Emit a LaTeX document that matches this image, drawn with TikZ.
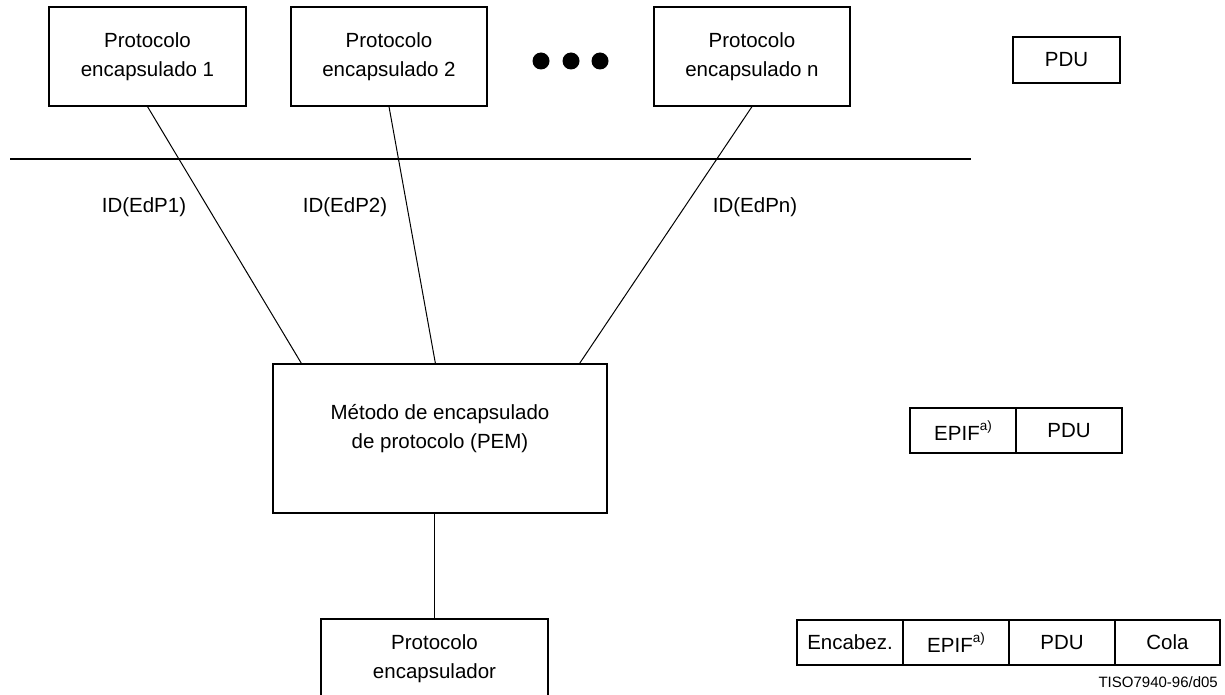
\documentclass[tikz,border=0pt]{standalone}
\usepackage{fontspec}
\setmainfont{Liberation Sans}
\newcommand\mainfs{\fontsize{20.5}{29}\selectfont}
\newcommand\smallfs{\fontsize{15}{18}\selectfont}
\newcommand\supa{\raisebox{0.5em}{\fontsize{13.5}{13.5}\selectfont a)}}
\begin{document}
\begin{tikzpicture}[x=1pt,y=-1pt,
  box/.style={draw, line width=1.2pt, inner sep=0pt, align=center, font=\mainfs},
  cell/.style={box, minimum width=106pt, minimum height=45pt},
  link/.style={line width=1pt},
  bar/.style={line width=2pt},
  dot/.style={circle, fill=black, inner sep=0pt, minimum size=17pt},
  lbl/.style={font=\mainfs, inner sep=0pt}]
\useasboundingbox (0,0) rectangle (1225,695);

% encapsulated protocols
\node[box, minimum width=197pt, minimum height=99pt] (p1) at (147.5,56.5) {Protocolo\\encapsulado 1};
\node[box, minimum width=196pt, minimum height=99pt] (p2) at (389,56.5) {Protocolo\\encapsulado 2};
\node[box, minimum width=196pt, minimum height=99pt] (pn) at (752,56.5) {Protocolo\\encapsulado n};
\node[dot] (d1) at (541,61) {};
\node[dot] (d2) at (571,61) {};
\node[dot] (d3) at (600,61) {};

% service boundary
\coordinate (barL) at (10,159);
\coordinate (barR) at (971,159);
\draw[bar] (barL) -- (barR);

% encapsulation method
\node[box, minimum width=334pt, minimum height=149pt] (pem) at (440,438.5) {};
\node[lbl, align=center] (pemtext) at (440,429) {Método de encapsulado\\de protocolo (PEM)};

% encapsulating protocol
\node[box, minimum width=227pt, minimum height=79pt] (encap) at (434.5,658.5) {Protocolo\\encapsulador};

% connectors
\draw[link] (p1.south) -- ([xshift=29pt]pem.north west);
\draw[link] (p2.south) -- ([xshift=163pt]pem.north west);
\draw[link] (pn.south) -- ([xshift=-28pt]pem.north east);
\draw[line width=1.8pt] (pem.south -| encap.north) -- (encap.north);

% identifiers
\node[lbl, anchor=base] (id1) at (144,212) {ID(EdP1)};
\node[lbl, anchor=base] (id2) at (345,212) {ID(EdP2)};
\node[lbl, anchor=base] (idn) at (755,212) {ID(EdPn)};

% PDU formats
\node[box, minimum width=107pt, minimum height=46pt] (pdu) at (1066.5,60) {PDU};

\node[cell] (epif1) at (963,430.5) {EPIF\supa};
\node[cell] (pdu1) at (1069,430.5) {PDU};

\node[cell] (hdr) at (850,642.5) {Encabez.};
\node[cell] (epif2) at (956,642.5) {EPIF\supa};
\node[cell] (pdu2) at (1062,642.5) {PDU};
\node[cell, minimum width=105pt] (tail) at (1167.5,642.5) {Cola};

\node[font=\smallfs, inner sep=0pt, anchor=base east] (ref) at (1218,687) {TISO7940-96/d05};
\end{tikzpicture}
\end{document}
